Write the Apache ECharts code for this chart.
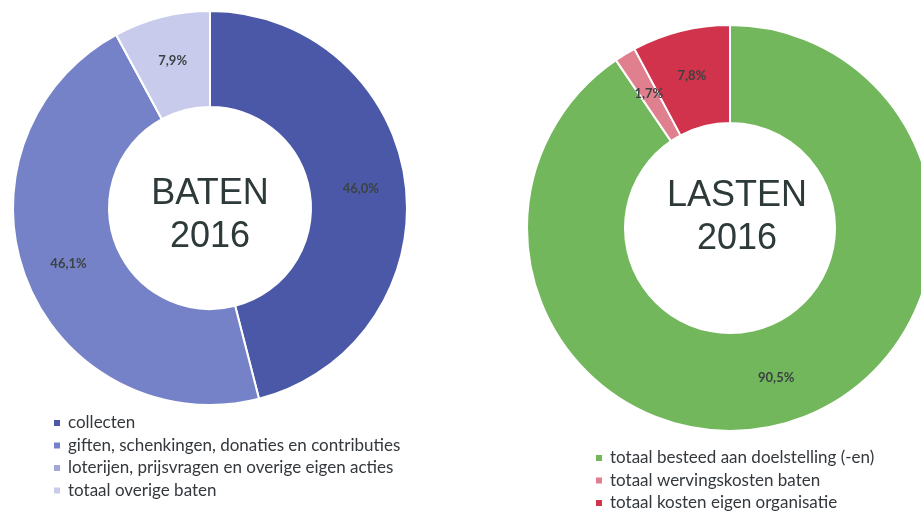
<!DOCTYPE html>
<html><head><meta charset="utf-8">
<script src="https://cdn.jsdelivr.net/npm/echarts@6/dist/echarts.min.js"></script>
<style>html,body{margin:0;padding:0;background:#fff}#c{width:921px;height:511px}</style>
</head><body><div id="c"></div>
<script>
const batenCategories = ['collecten','giften, schenkingen, donaties en contributies','loterijen, prijsvragen en overige eigen acties','totaal overige baten'];
const batenValues = [46.0, 46.1, 0, 7.9];
const batenColors = ['#4b58a8','#7682c8','#a2a8d6','#c8cbec'];
const lastenCategories = ['totaal besteed aan doelstelling (-en)','totaal wervingskosten baten','totaal kosten eigen organisatie'];
const lastenValues = [90.5, 1.7, 7.8];
const lastenColors = ['#72b75c','#e07f8e','#d0334b'];

const fmt = p => p.value ? p.value.toFixed(1).replace('.', ',') + '%' : '';
const labelStyle = {show:true, position:'inside', formatter: fmt, fontFamily:'Lato', fontWeight:'bold', fontSize:13, color:'#3a4242'};
const legendText = {fontFamily:'Lato', fontSize:17, color:'#33383d', lineHeight:18, padding:[0,0,0,2]};

const chart = echarts.init(document.getElementById('c'));
chart.setOption({
  animation:false,
  legend:[
    {data: batenCategories, orient:'vertical', left:47, top:409, width:420, height:100, icon:'rect', itemWidth:8, itemHeight:8, itemGap:4.5, textStyle: legendText, selectedMode:false},
    {data: lastenCategories, orient:'vertical', left:589, top:444, width:330, height:80, icon:'rect', itemWidth:8, itemHeight:8, itemGap:4.5, textStyle: legendText, selectedMode:false}
  ],
  graphic:[
    {type:'text', x:210, y:194, style:{text:'BATEN', font:'36px "Liberation Sans"', fill:'#2e3a3a', align:'center', verticalAlign:'middle'}},
    {type:'text', x:210, y:237, style:{text:'2016', font:'36px "Liberation Sans"', fill:'#2e3a3a', align:'center', verticalAlign:'middle'}},
    {type:'text', x:737, y:196, style:{text:'LASTEN', font:'36px "Liberation Sans"', fill:'#2e3a3a', align:'center', verticalAlign:'middle'}},
    {type:'text', x:737, y:239, style:{text:'2016', font:'36px "Liberation Sans"', fill:'#2e3a3a', align:'center', verticalAlign:'middle'}}
  ],
  series:[
    {type:'pie', center:[210,208], radius:[101,197], startAngle:90, clockwise:true, avoidLabelOverlap:false,
     label: labelStyle, labelLine:{show:false}, emphasis:{disabled:true},
     itemStyle:{borderColor:'#fff', borderWidth:2},
     data: batenCategories.map((n,i)=>({name:n, value:batenValues[i], itemStyle:{color:batenColors[i]}}))},
    {type:'pie', center:[730,228], radius:[105,203], startAngle:90, clockwise:true, avoidLabelOverlap:false,
     label: labelStyle, labelLine:{show:false}, emphasis:{disabled:true},
     itemStyle:{borderColor:'#fff', borderWidth:2},
     data: lastenCategories.map((n,i)=>({name:n, value:lastenValues[i], itemStyle:{color:lastenColors[i]}}))}
  ]
});
</script></body></html>
